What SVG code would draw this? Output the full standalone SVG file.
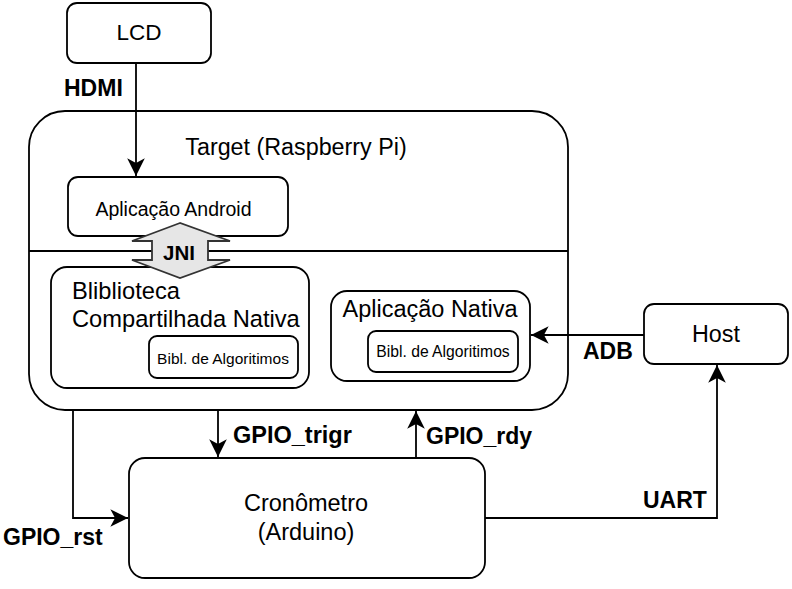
<svg xmlns="http://www.w3.org/2000/svg" width="792" height="589" viewBox="0 0 792 589">
<style>
.box{fill:#fff;stroke:#000;stroke-width:1.8}
.ln{fill:none;stroke:#000;stroke-width:1.8}
.t{font-family:"Liberation Sans",Arial,sans-serif;fill:#000}
.b{font-family:"Liberation Sans",Arial,sans-serif;font-weight:bold;fill:#000;font-size:23px}
</style>
<defs>
<marker id="arr" markerUnits="userSpaceOnUse" markerWidth="20" markerHeight="20" viewBox="-16 -8 17 16" refX="0" refY="0" orient="auto">
<path d="M0,0 L-15,-7.5 L-11,0 L-15,7.5 Z" fill="#000"/>
</marker>
</defs>
<rect width="792" height="589" fill="#fff"/>
<g id="target">
<rect class="box" x="29" y="111" width="539" height="299" rx="36"/>
<line class="ln" x1="29" y1="251" x2="568" y2="251"/>
<text class="t" x="296" y="155" font-size="23.3" text-anchor="middle">Target (Raspberry Pi)</text>
</g>
<g id="lcd">
<rect class="box" x="67" y="3" width="144" height="60" rx="10"/>
<text class="t" x="139" y="40" font-size="22.5" text-anchor="middle">LCD</text>
</g>
<g id="android">
<rect class="box" x="68" y="177" width="220" height="59" rx="10"/>
<text class="t" x="173.5" y="216" font-size="19.5" text-anchor="middle">Aplicação Android</text>
</g>
<g id="biblioteca">
<rect class="box" x="51" y="267" width="258" height="121" rx="16"/>
<text class="t" x="72" y="299" font-size="23.7">Bliblioteca</text>
<text class="t" x="72" y="327" font-size="23.7">Compartilhada Nativa</text>
</g>
<g id="bibl1">
<rect class="box" x="149" y="336" width="149" height="42" rx="8"/>
<text class="t" x="223" y="364" font-size="15.5" text-anchor="middle">Bibl. de Algoritimos</text>
</g>
<g id="nativa">
<rect class="box" x="331" y="291" width="199" height="90" rx="16"/>
<text class="t" x="430" y="317" font-size="23.5" text-anchor="middle">Aplicação Nativa</text>
</g>
<g id="bibl2">
<rect class="box" x="368" y="331" width="150" height="41" rx="8"/>
<text class="t" x="443" y="357" font-size="15.7" text-anchor="middle">Bibl. de Algoritimos</text>
</g>
<g id="host">
<rect class="box" x="644" y="304" width="144" height="60" rx="10"/>
<text class="t" x="716" y="342" font-size="23.3" text-anchor="middle">Host</text>
</g>
<g id="cronometro">
<rect class="box" x="129" y="458" width="356" height="120" rx="16"/>
<text class="t" x="306" y="511" font-size="23.5" text-anchor="middle">Cronômetro</text>
<text class="t" x="306" y="540" font-size="23.5" text-anchor="middle">(Arduino)</text>
</g>
<g id="jni">
<path d="M180,223 L132,241 L152,241 L152,260 L132,260 L180,278 L230,260 L208,260 L208,241 L230,241 Z" fill="#e6e6e6" stroke="#333" stroke-width="1.8" stroke-linejoin="miter"/>
<text class="b" x="179" y="260" style="font-size:20.5px" text-anchor="middle">JNI</text>
</g>
<g id="connectors">
<path class="ln" d="M136,63 V176" marker-end="url(#arr)"/>
<path class="ln" d="M644,335 H531" marker-end="url(#arr)"/>
<path class="ln" d="M218,410 V457" marker-end="url(#arr)"/>
<path class="ln" d="M416,458 V411" marker-end="url(#arr)"/>
<path class="ln" d="M73,410 V518 H128" marker-end="url(#arr)"/>
<path class="ln" d="M485,518 H717 V365" marker-end="url(#arr)"/>
<text class="b" x="64" y="96">HDMI</text>
<text class="b" x="233" y="443" style="font-size:23.5px">GPIO_trigr</text>
<text class="b" x="426" y="444">GPIO_rdy</text>
<text class="b" x="3" y="545">GPIO_rst</text>
<text class="b" x="643" y="508">UART</text>
<text class="b" x="583" y="359">ADB</text>
</g>
</svg>
